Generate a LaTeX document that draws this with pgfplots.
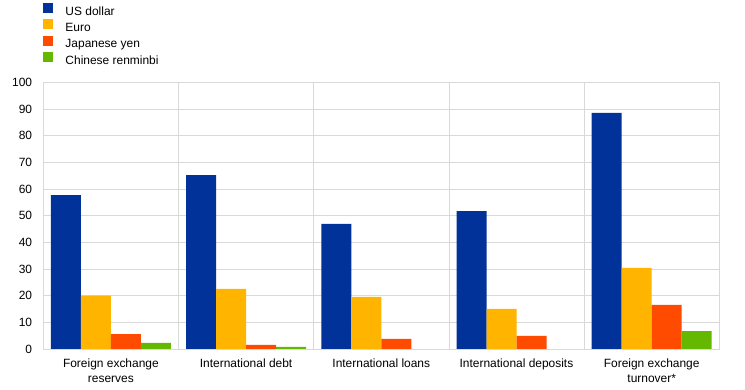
\documentclass[border=0pt]{standalone}
\usepackage{pgfplots}
\pgfplotsset{compat=1.18}
\usepackage{fontspec}
\setmainfont{Liberation Sans}
\definecolor{cusd}{HTML}{003299}
\definecolor{ceur}{HTML}{FFB400}
\definecolor{cjpy}{HTML}{FF4B00}
\definecolor{ccny}{HTML}{65B800}
\definecolor{gridc}{HTML}{D9D9D9}
\begin{document}
\begin{tikzpicture}
\useasboundingbox (0,0) rectangle (745bp,390bp);
\begin{axis}[
  at={(43.3bp,41bp)}, anchor=south west,
  scale only axis, width=676bp, height=266.7bp,
  ybar=0pt, bar width=30bp,
  xmin=-0.5, xmax=4.5, ymin=0, ymax=100,
  ytick={0,10,...,100},
  xtick={0,1,2,3,4},
  xticklabels={{Foreign exchange\\reserves},{International debt},{International loans},{International deposits},{Foreign exchange\\turnover*}},
  x tick label style={align=center, font=\fontsize{12}{15}\selectfont, inner sep=0pt, yshift=-9.5bp},
  y tick label style={font=\fontsize{12}{14}\selectfont, inner sep=0pt, xshift=-11bp},
  /pgf/number format/assume math mode=true,
  minor xtick={0.5,1.5,2.5,3.5},
  xminorgrids=true, ymajorgrids=true,
  grid style={gridc, line width=0.75bp},
  minor grid style={gridc, line width=0.75bp},
  axis line style={gridc, line width=0.75bp},
  major tick length=0pt, minor tick length=0pt,
  tick style={draw=none},
  legend cell align=left,
  legend style={at={(rel axis cs:0,1)}, anchor=south west, xshift=0bp, yshift=15bp,
    draw=none, fill=none, inner sep=0pt, row sep=0.9bp,
    font=\fontsize{12}{14}\selectfont,
    nodes={inner sep=0pt, text height=9bp, text depth=3bp}},
  legend image code/.code={\fill[#1] (0bp,-0.7bp) rectangle (10bp,9.3bp);},
  /tikz/every odd column/.append style={column sep=12bp},
]
\addplot[fill=cusd, draw=none] coordinates {(0,57.7) (1,65.2) (2,46.9) (3,51.7) (4,88.5)};
\addplot[fill=ceur, draw=none] coordinates {(0,20.0) (1,22.5) (2,19.5) (3,15.0) (4,30.4)};
\addplot[fill=cjpy, draw=none] coordinates {(0,5.6) (1,1.5) (2,3.75) (3,4.9) (4,16.5)};
\addplot[fill=ccny, draw=none] coordinates {(0,2.3) (1,0.75) (2,0) (3,0) (4,6.7)};
\legend{US dollar,Euro,Japanese yen,Chinese renminbi}
\end{axis}
\end{tikzpicture}
\end{document}
